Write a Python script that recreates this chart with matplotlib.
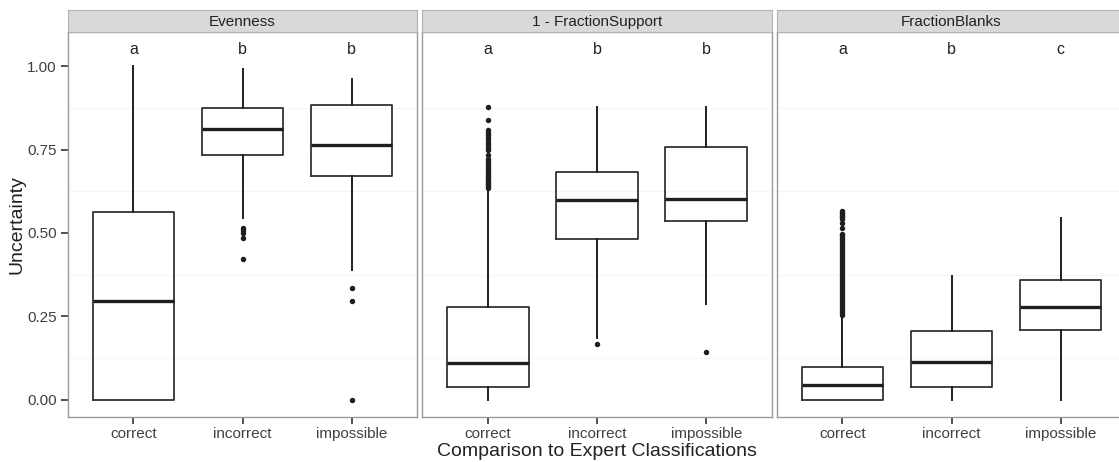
import numpy as np
import matplotlib
matplotlib.use("Agg")
import matplotlib.pyplot as plt

plt.rcParams["font.family"] = ["Liberation Sans", "DejaVu Sans"]

categories = ["correct", "incorrect", "impossible"]
facets = ["Evenness", "1 - FractionSupport", "FractionBlanks"]
letters = [["a", "b", "b"], ["a", "b", "b"], ["a", "b", "c"]]

# box stats: (whislo, q1, med, q3, whishi)
evenness_stats = [
    (0.0, 0.0, 0.295, 0.564, 1.0),
    (0.546, 0.734, 0.813, 0.874, 0.992),
    (0.388, 0.670, 0.765, 0.884, 0.963),
]
support_stats = [
    (0.0, 0.037, 0.111, 0.277, 0.633),
    (0.184, 0.483, 0.598, 0.683, 0.879),
    (0.286, 0.536, 0.601, 0.758, 0.879),
]
blanks_stats = [
    (0.0, 0.0, 0.044, 0.099, 0.249),
    (0.0, 0.039, 0.114, 0.207, 0.370),
    (0.0, 0.210, 0.278, 0.358, 0.546),
]

evenness_out = [
    [],
    [0.516, 0.508, 0.499, 0.486, 0.421],
    [0.336, 0.296, 0.0],
]
support_out = [
    [0.636, 0.641, 0.646, 0.651, 0.656, 0.661, 0.667, 0.672, 0.678, 0.684,
     0.690, 0.696, 0.702, 0.709, 0.716, 0.722, 0.735, 0.748, 0.756, 0.763,
     0.771, 0.779, 0.786, 0.793, 0.800, 0.808, 0.838, 0.879],
    [0.166],
    [0.142],
]
blanks_out = [
    [0.253, 0.259, 0.265, 0.271, 0.277, 0.283, 0.289, 0.295, 0.301, 0.307,
     0.313, 0.319, 0.325, 0.331, 0.337, 0.343, 0.349, 0.355, 0.361, 0.367,
     0.373, 0.379, 0.385, 0.391, 0.397, 0.403, 0.409, 0.415, 0.421, 0.427,
     0.433, 0.439, 0.445, 0.451, 0.457, 0.463, 0.469, 0.475, 0.481, 0.487,
     0.493, 0.498, 0.516, 0.531, 0.542, 0.547, 0.552, 0.556, 0.561, 0.566],
    [],
    [],
]

all_stats = [evenness_stats, support_stats, blanks_stats]
all_out = [evenness_out, support_out, blanks_out]

W, H = 1119, 462
fig = plt.figure(figsize=(W / 100, H / 100), dpi=100)

panel_x = [(68, 417), (422, 772), (777, 1126)]
top, strip_top, bottom = 32, 10, 417

border = "#9a9a9a"
dark = "#1f1f1f"
txt = "#404040"

for i, (x0, x1) in enumerate(panel_x):
    ax = fig.add_axes([x0 / W, 1 - bottom / H, (x1 - x0) / W, (bottom - top) / H])
    sax = fig.add_axes([x0 / W, 1 - top / H, (x1 - x0) / W, (top - strip_top) / H])

    stats = []
    for j, cat in enumerate(categories):
        lo, q1, med, q3, hi = all_stats[i][j]
        stats.append(dict(label=cat, whislo=lo, q1=q1, med=med, q3=q3, whishi=hi,
                          fliers=all_out[i][j]))
    ax.bxp(stats, positions=[1, 2, 3], widths=0.75, showcaps=False,
           boxprops=dict(color="#333333", linewidth=1.3),
           medianprops=dict(color=dark, linewidth=2.4),
           whiskerprops=dict(color=dark, linewidth=1.4),
           flierprops=dict(marker="o", markerfacecolor=dark, markeredgecolor=dark,
                           markersize=2.9, linestyle="none"))

    for j, let in enumerate(letters[i]):
        ax.text(j + 1, 1.05, let, ha="center", va="center", fontsize=11.5, color="#222222")

    ax.set_xlim(0.4, 3.6)
    ax.set_ylim(-0.0525, 1.1025)
    ax.set_yticks([0, 0.25, 0.5, 0.75, 1.0])
    ax.set_yticks([0.125, 0.375, 0.625, 0.875], minor=True)
    ax.grid(True, which="minor", axis="y", color="#f6f6f6", linewidth=0.8)
    ax.set_axisbelow(True)
    ax.set_xticks([1, 2, 3])
    ax.set_xticklabels(categories)
    ax.tick_params(axis="x", length=5, width=1.2, color="#333333", labelsize=11,
                   labelcolor=txt, pad=2.5)
    ax.tick_params(axis="y", which="major", length=5, width=1.2, color="#333333",
                   labelsize=11, labelcolor=txt, pad=3)
    ax.tick_params(axis="y", which="minor", length=0)
    if i == 0:
        ax.set_yticklabels(["0.00", "0.25", "0.50", "0.75", "1.00"])
        ax.set_ylabel("Uncertainty", fontsize=14, color="#222222", labelpad=1)
    else:
        ax.tick_params(axis="y", which="major", length=0, labelleft=False)
    for s in ax.spines.values():
        s.set_color(border)
        s.set_linewidth(1.0)

    sax.set_facecolor("#d9d9d9")
    sax.set_xticks([])
    sax.set_yticks([])
    for s in sax.spines.values():
        s.set_color("#b3b3b3")
        s.set_linewidth(0.8)
    sax.text(0.5, 0.45, facets[i], transform=sax.transAxes, ha="center", va="center",
             fontsize=11, color="#222222")

fig.text(597 / W, 1 - 452 / H, "Comparison to Expert Classifications",
         ha="center", va="center", fontsize=14, color="#222222")

fig.savefig("out.png", dpi=100)
